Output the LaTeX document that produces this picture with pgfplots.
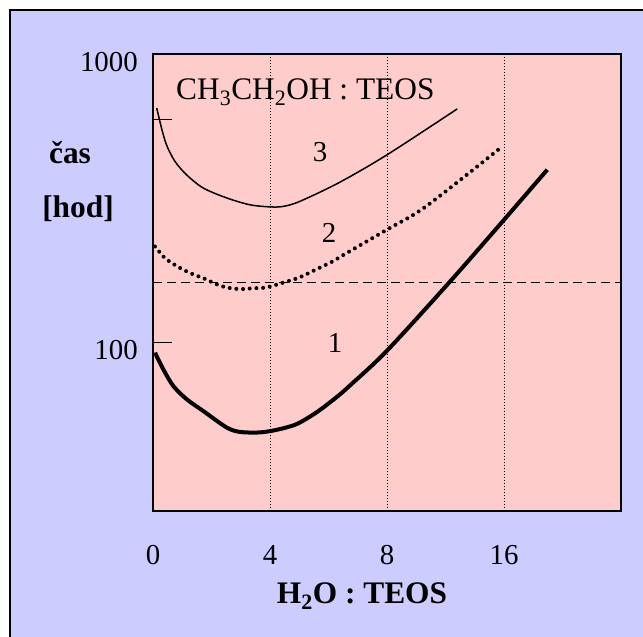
\documentclass[border=0pt]{standalone}
\usepackage{pgfplots}
\pgfplotsset{compat=1.18}
\usepackage{fontspec}
\setmainfont{Liberation Serif}
\definecolor{lav}{HTML}{CCCCFF}
\definecolor{pinkbg}{HTML}{FFCCCC}
\newcommand{\labfont}{\fontsize{31.5}{38}\selectfont}
\begin{document}
\fontsize{29}{35}\selectfont
\begin{tikzpicture}
\useasboundingbox (0,0) rectangle (643bp,-637bp);
\fill[white] (0,0) rectangle (643bp,-637bp);
\fill[lav] (10bp,-10bp) rectangle (643bp,-637bp);
\draw[line width=2bp] (10bp,-637bp) -- (10bp,-10bp) -- (643bp,-10bp);
\begin{axis}[
  at={(153bp,-511bp)}, anchor=south west,
  width=468bp, height=457bp, scale only axis,
  ymode=log, xmin=0, xmax=4, ymin=26, ymax=1000,
  enlargelimits=false,
  axis background/.style={fill=pinkbg},
  axis line style={line width=1.5bp},
  /pgf/number format/assume math mode=true,
  xtick={0,1,2,3}, xticklabels={0,4,8,16},
  xtick style={draw=none},
  xmajorgrids, grid style={black, line width=1bp, dash pattern=on 1bp off 2bp},
  xticklabel style={anchor=center, inner sep=0pt, yshift=-44bp},
  ytick={100,1000}, yticklabels={100,1000},
  ytick pos=left, tick align=inside,
  major tick length=19bp,
  ytick style={line width=1.2bp, black},
  yticklabel style={anchor=east, inner sep=0pt, xshift=-15bp, yshift=-8bp},
  extra y ticks={591}, extra y tick labels={},
  extra y tick style={ytick style={line width=1.2bp, black}, grid=none},
  yminorticks=false,
]
\addplot[black, line width=1.2bp, dash pattern=on 9bp off 5bp] coordinates {(0,161) (4,161)};
% curve 1
\addplot[black, line width=4bp, smooth, tension=0.5] coordinates {
(0.017,92.1) (0.088,80.6) (0.173,70.6) (0.287,63.5) (0.429,57.8) (0.628,50.7)
(0.742,48.9) (0.912,48.7) (1.055,49.7) (1.225,52.0) (1.396,57.1) (1.566,64.4)
(1.679,70.6) (1.995,93.1) (2.53,161) (3.0,266) (3.37,397)};
% curve 2
\addplot[black, line width=4bp, line cap=round, dash pattern=on 0pt off 6.7bp, smooth, tension=0.5] coordinates {
(0.017,215) (0.102,196) (0.202,184) (0.315,174) (0.429,167) (0.543,159) (0.628,155)
(0.742,153) (0.855,154) (0.969,155) (1.111,161) (1.253,168) (1.395,179) (1.537,191)
(1.637,202) (2.0,246) (2.333,296) (2.98,476)};
% curve 3
\addplot[black, line width=1.5bp, smooth, tension=0.5] coordinates {
(0.032,649) (0.074,551) (0.117,482) (0.188,424) (0.287,381) (0.429,343) (0.628,317)
(0.827,300) (0.997,295) (1.111,296) (1.253,308) (1.59,358) (2.0,447) (2.6,645)};
\end{axis}
\node[anchor=base west, inner sep=0pt, font=\labfont] at (176bp,-99bp) {CH\textsubscript{3}CH\textsubscript{2}OH : TEOS};
\node[inner sep=0pt] at (320bp,-152bp) {3};
\node[inner sep=0pt] at (329bp,-233bp) {2};
\node[inner sep=0pt] at (335bp,-343bp) {1};
\node[anchor=base, inner sep=0pt, font=\labfont\bfseries] at (70bp,-163bp) {čas};
\node[anchor=base, inner sep=0pt, font=\labfont\bfseries] at (78bp,-217bp) {[hod]};
\node[anchor=base, inner sep=0pt, font=\labfont\bfseries] at (362bp,-603bp) {H\textsubscript{2}O : TEOS};
\end{tikzpicture}
\end{document}
